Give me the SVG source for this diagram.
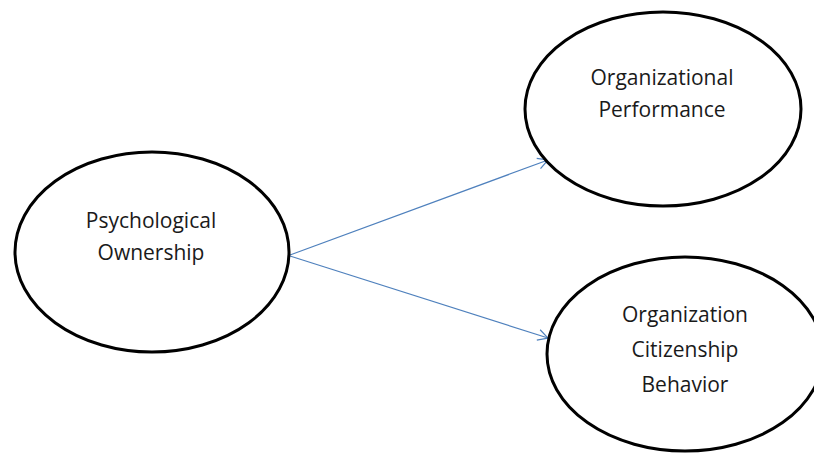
<svg xmlns="http://www.w3.org/2000/svg" width="814" height="454" viewBox="0 0 814 454">
  <style>
    .node ellipse { fill: #ffffff; stroke: #000000; stroke-width: 3; }
    .node text { font-family: "Open Sans", "Liberation Sans", sans-serif; font-size: 21px; fill: #1a1a1a; text-anchor: middle; }
    .edge { fill: none; stroke: #4f81bd; stroke-width: 1.2; }
  </style>
  <defs>
    <marker id="arrow" markerUnits="userSpaceOnUse" markerWidth="14" markerHeight="14" viewBox="0 0 14 14" refX="11" refY="7" orient="auto">
      <path d="M1,1.5 L11,7 L1,12.5" fill="none" stroke="#4f81bd" stroke-width="1.2"/>
    </marker>
  </defs>
  <rect width="814" height="454" fill="#ffffff"/>
  <g id="connectors">
    <line class="edge" x1="290" y1="255" x2="548" y2="160" marker-end="url(#arrow)"/>
    <line class="edge" x1="290" y1="256" x2="548" y2="338" marker-end="url(#arrow)"/>
  </g>
  <g id="psychological-ownership" class="node">
    <ellipse cx="152" cy="252" rx="137" ry="100"/>
    <text x="151" y="228">Psychological</text>
    <text x="151" y="260">Ownership</text>
  </g>
  <g id="organizational-performance" class="node">
    <ellipse cx="663" cy="109" rx="138" ry="97"/>
    <text x="662" y="85">Organizational</text>
    <text x="662" y="117">Performance</text>
  </g>
  <g id="organization-citizenship-behavior" class="node">
    <ellipse cx="685" cy="354" rx="138" ry="97"/>
    <text x="685" y="322">Organization</text>
    <text x="685" y="357">Citizenship</text>
    <text x="685" y="392">Behavior</text>
  </g>
</svg>
